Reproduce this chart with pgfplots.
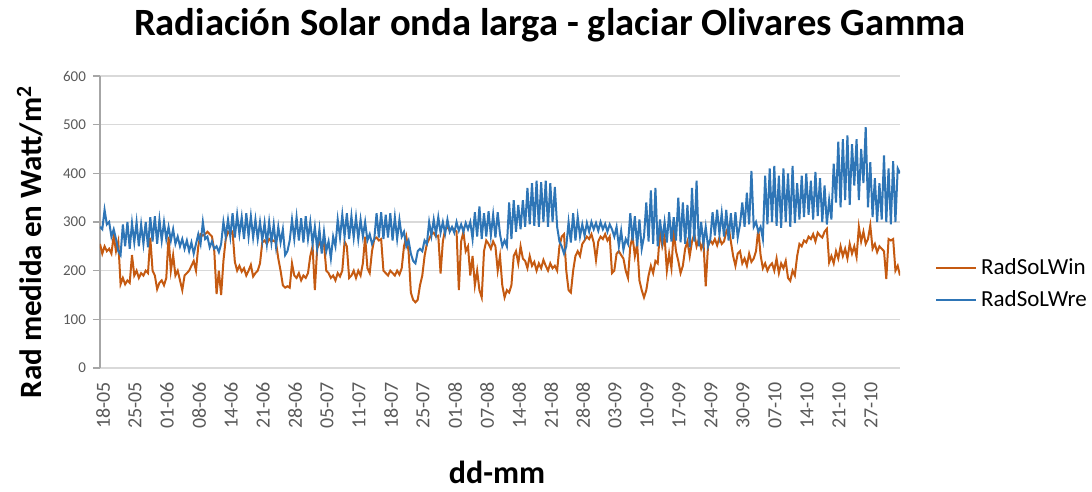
\documentclass[border=0pt]{standalone}
\usepackage{fontspec}
\setmainfont{Carlito}
\usepackage{pgfplots}
\pgfplotsset{compat=1.18}
\usepackage{pgfplotstable}

\definecolor{lwin}{HTML}{C55A11}
\definecolor{lwre}{HTML}{2E75B6}
\definecolor{txtgray}{HTML}{595959}
\definecolor{gridgray}{HTML}{D9D9D9}
\definecolor{axgray}{HTML}{A6A6A6}

% half-day samples, one line per week (14 values), 18-05 ... 03-11
\pgfplotstableread[row sep=\\]{
v\\
290\\285\\325\\295\\300\\270\\285\\265\\240\\232\\295\\250\\300\\245\\
298\\258\\300\\250\\295\\255\\300\\248\\310\\260\\312\\255\\305\\262\\
300\\265\\290\\262\\285\\255\\270\\250\\265\\245\\262\\240\\258\\235\\
255\\275\\255\\300\\265\\270\\248\\260\\245\\250\\238\\255\\300\\270\\
305\\270\\318\\268\\315\\275\\310\\265\\318\\270\\312\\268\\305\\265\\
300\\262\\298\\255\\300\\258\\295\\250\\290\\258\\285\\232\\240\\262\\
305\\265\\310\\262\\308\\258\\312\\265\\300\\255\\290\\245\\285\\235\\
280\\240\\260\\225\\270\\250\\305\\268\\315\\270\\318\\265\\312\\268\\
310\\265\\305\\270\\300\\262\\275\\255\\265\\318\\268\\320\\265\\315\\
268\\318\\262\\310\\265\\305\\270\\280\\250\\262\\235\\220\\215\\240\\
245\\240\\262\\255\\300\\272\\305\\275\\310\\278\\300\\276\\305\\280\\
290\\278\\300\\282\\295\\280\\298\\285\\300\\265\\320\\270\\332\\265\\
318\\270\\322\\272\\315\\268\\320\\275\\250\\262\\250\\340\\265\\345\\
280\\335\\285\\345\\290\\370\\295\\380\\292\\385\\290\\382\\300\\385\\
290\\380\\300\\372\\290\\260\\250\\235\\250\\300\\258\\318\\262\\310\\
270\\295\\272\\298\\280\\300\\285\\298\\282\\300\\285\\296\\280\\295\\
285\\270\\290\\250\\282\\243\\265\\255\\318\\262\\312\\250\\305\\245\\
270\\340\\260\\365\\255\\370\\250\\305\\262\\300\\258\\320\\260\\310\\
262\\350\\258\\340\\255\\335\\248\\370\\260\\385\\250\\300\\255\\290\\
250\\265\\320\\272\\325\\275\\318\\270\\325\\262\\318\\265\\320\\268\\
295\\340\\290\\360\\295\\405\\290\\300\\280\\290\\265\\395\\295\\410\\
300\\415\\292\\395\\288\\410\\300\\400\\290\\415\\298\\380\\305\\395\\
310\\400\\315\\385\\305\\403\\312\\390\\300\\375\\295\\345\\305\\420\\
340\\465\\330\\470\\345\\478\\335\\460\\375\\470\\345\\450\\380\\495\\
330\\423\\310\\390\\300\\380\\305\\437\\300\\410\\295\\425\\300\\410\\400\\
}\lwredata

\pgfplotstableread[row sep=\\]{
v\\
255\\235\\250\\240\\245\\235\\272\\240\\260\\172\\185\\172\\180\\175\\
232\\190\\200\\185\\195\\190\\200\\195\\268\\200\\190\\162\\175\\180\\
170\\185\\270\\200\\232\\190\\200\\180\\160\\190\\195\\200\\210\\220\\
200\\250\\275\\272\\275\\280\\275\\270\\240\\152\\200\\150\\220\\265\\
280\\275\\280\\218\\200\\210\\198\\205\\190\\200\\212\\188\\195\\200\\
215\\258\\262\\255\\265\\260\\262\\258\\225\\200\\170\\165\\168\\165\\
215\\190\\185\\195\\180\\190\\185\\195\\230\\250\\160\\245\\257\\250\\
255\\200\\195\\185\\190\\180\\195\\188\\200\\260\\250\\185\\190\\200\\
185\\200\\190\\215\\270\\205\\195\\240\\265\\268\\262\\265\\200\\195\\
190\\200\\195\\190\\200\\192\\205\\250\\270\\240\\155\\140\\135\\140\\
170\\190\\230\\255\\265\\275\\278\\270\\272\\194\\260\\285\\290\\282\\
288\\285\\280\\160\\260\\280\\240\\250\\190\\230\\170\\200\\160\\145\\
240\\262\\255\\245\\260\\250\\200\\230\\170\\145\\160\\155\\170\\230\\
240\\215\\250\\225\\220\\205\\230\\210\\218\\200\\215\\205\\222\\210\\
200\\215\\205\\210\\200\\250\\270\\275\\200\\160\\155\\200\\230\\240\\
230\\255\\262\\270\\265\\275\\258\\222\\260\\270\\265\\275\\262\\270\\
195\\200\\235\\240\\232\\225\\200\\185\\250\\270\\230\\255\\180\\160\\
145\\160\\190\\210\\195\\220\\215\\283\\250\\270\\200\\235\\205\\283\\
240\\220\\195\\210\\245\\260\\230\\260\\275\\250\\265\\245\\260\\168\\
250\\262\\255\\265\\252\\268\\255\\260\\280\\290\\260\\230\\210\\235\\
240\\215\\225\\210\\235\\218\\225\\240\\286\\232\\205\\215\\200\\210\\
215\\200\\225\\195\\215\\205\\220\\185\\179\\200\\190\\230\\255\\250\\
262\\258\\270\\265\\275\\260\\278\\272\\268\\280\\286\\217\\230\\215\\
240\\225\\250\\230\\245\\225\\255\\235\\250\\228\\290\\260\\280\\255\\
265\\293\\245\\255\\238\\250\\245\\240\\183\\265\\262\\265\\200\\210\\190\\
}\lwindata

\begin{document}
\begin{tikzpicture}
\useasboundingbox (-50pt,-62pt) rectangle (496pt,184pt);
\begin{axis}[
    at={(0,0)}, anchor=south west,
    scale only axis, width=400pt, height=146pt,
    xmin=100, xmax=900, ymin=0, ymax=600,
    ytick={0,100,...,600},
    xtick={103,135,...,871},
    xticklabels={18-05,25-05,01-06,08-06,14-06,21-06,28-06,05-07,11-07,18-07,25-07,01-08,07-08,14-08,21-08,28-08,03-09,10-09,17-09,24-09,30-09,07-10,14-10,21-10,27-10},
    axis lines=left,
    axis line style={-},
    x axis line style={draw=gridgray, line width=0.8pt},
    y axis line style={draw=axgray, line width=0.8pt},
    ymajorgrids, grid style={gridgray, line width=0.8pt},
    tick align=outside,
    major tick length=3.5pt,
    ytick style={draw=axgray, line width=0.8pt},
    xtick style={draw=none},
    /pgf/number format/assume math mode=true,
    yticklabel style={font=\fontsize{7.5}{9}\selectfont, text=txtgray},
    xticklabel style={font=\fontsize{10}{12}\selectfont, text=txtgray, rotate=90, anchor=east},
    legend style={at={(1.044,0.288)}, anchor=west, draw=none, fill=none,
        font=\fontsize{11.5}{13}\selectfont, row sep=2.5pt, inner sep=0pt},
    legend cell align=left,
    legend image code/.code={\draw[#1, line width=0.8pt] (0pt,0pt) -- (20pt,0pt);},
]
\addplot[lwin, line width=1pt] table[x expr={100+\coordindex*32/14}, y=v] {\lwindata};
\addlegendentry{RadSoLWin}
\addplot[lwre, line width=1pt] table[x expr={100+\coordindex*32/14}, y=v] {\lwredata};
\addlegendentry{RadSoLWre}
\end{axis}
\node[font=\bfseries\fontsize{19.3}{22}\selectfont, inner sep=0pt] at (225pt,171.5pt) {Radiación Solar onda larga - glaciar Olivares Gamma};
\node[font=\bfseries\fontsize{15.5}{18}\selectfont, rotate=90, inner sep=0pt] at (-35pt,63pt) {Rad medida en Watt/m\textsuperscript{2}};
\node[font=\bfseries\fontsize{16}{19}\selectfont, inner sep=0pt] at (198.5pt,-52pt) {dd-mm};
\end{tikzpicture}
\end{document}
